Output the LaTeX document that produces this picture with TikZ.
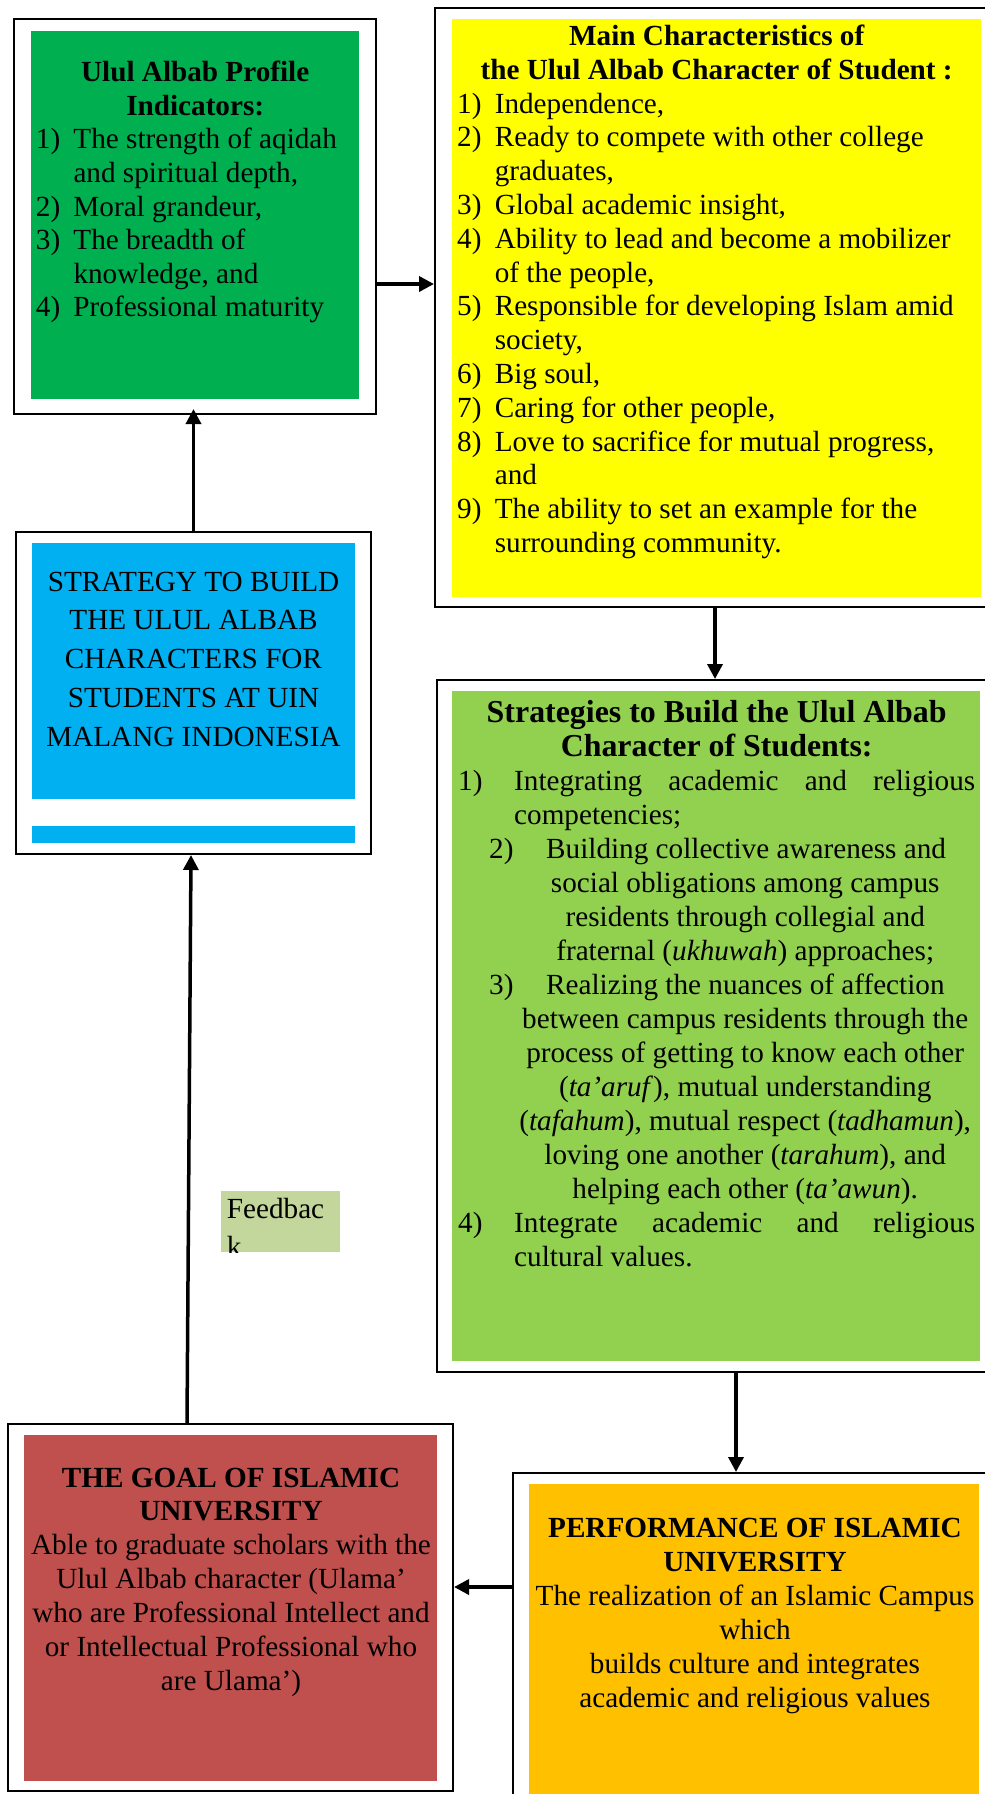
\documentclass[tikz,border=0pt]{standalone}
\usepackage{fontspec}
\setmainfont{Liberation Serif}
\usetikzlibrary{arrows.meta,fit}
\definecolor{cgreen}{HTML}{00B050}
\definecolor{cyellow}{HTML}{FFFF00}
\definecolor{cblue}{HTML}{00B0F0}
\definecolor{clgreen}{HTML}{92D050}
\definecolor{cred}{HTML}{C0504D}
\definecolor{corange}{HTML}{FFC000}
\definecolor{cfeed}{HTML}{C3D69B}
\tikzset{
  frame/.style={draw=black, line width=2pt, inner sep=0pt},
  panel/.style={inner sep=0pt, draw=none},
  conn/.style={line width=3.5pt, -{Triangle[length=15pt,width=15pt]}},
  txt/.style={inner sep=0pt, anchor=base west},
  ctxt/.style={inner sep=0pt, anchor=base},
}
\newcommand{\numb}[2]{\makebox[#1][l]{#2}}
\begin{document}
\begin{tikzpicture}[x=1pt,y=-1pt]
\useasboundingbox (0,0) rectangle (985,1794);
\clip (0,0) rectangle (985,1794);
\fill[white] (0,0) rectangle (985,1794);

% frames and panels
\node[frame, fit={(14,19)(376,414)}] (gframe) {};
\node[panel, fill=cgreen, fit={(31,31)(359,399)}] (gpanel) {};
\node[frame, fit={(435,8)(995,607)}] (yframe) {};
\node[panel, fill=cyellow, fit={(452,19)(981,597)}] (ypanel) {};
\node[frame, fit={(16,532)(371,854)}] (bframe) {};
\node[panel, fill=cblue, fit={(32,543)(355,799)}] (bpanel) {};
\node[panel, fill=cblue, fit={(32,826)(355,843)}] (bstrip) {};
\node[frame, fit={(437,680)(995,1372)}] (lframe) {};
\node[panel, fill=clgreen, fit={(452,691)(980,1361)}] (lpanel) {};
\node[frame, fit={(513,1473)(995,1805)}] (oframe) {};
\node[panel, fill=corange, fit={(529,1484)(979,1805)}] (opanel) {};
\node[frame, fit={(8,1424)(453,1791)}] (rframe) {};
\node[panel, fill=cred, fit={(24,1435)(437,1781)}] (rpanel) {};
\node[panel, fill=cfeed, fit={(221,1191)(340,1252)}] (fpanel) {};

% green text
\node[txt] (gtext) at (35.7,81.7) {\parbox[t]{330pt}{\fontsize{29.2}{33.6}\selectfont
\makebox[318.6pt][c]{\bfseries Ulul Albab Profile}\\
\makebox[318.6pt][c]{\bfseries Indicators:}\\
\numb{37.6pt}{1)}The strength of aqidah\\
\hspace*{37.6pt}and spiritual depth,\\
\numb{37.6pt}{2)}Moral grandeur,\\
\numb{37.6pt}{3)}The breadth of\\
\hspace*{37.6pt}knowledge, and\\
\numb{37.6pt}{4)}Professional maturity}};

% yellow text
\node[txt] (ytext) at (457,45.5) {\parbox[t]{530pt}{\fontsize{29.2}{33.8}\selectfont
\makebox[519pt][c]{\bfseries Main Characteristics of}\\
\makebox[519pt][c]{\bfseries the Ulul Albab Character of Student :}\\
\numb{37.6pt}{1)}Independence,\\
\numb{37.6pt}{2)}Ready to compete with other college\\
\hspace*{37.6pt}graduates,\\
\numb{37.6pt}{3)}Global academic insight,\\
\numb{37.6pt}{4)}Ability to lead and become a mobilizer\\
\hspace*{37.6pt}of the people,\\
\numb{37.6pt}{5)}Responsible for developing Islam amid\\
\hspace*{37.6pt}society,\\
\numb{37.6pt}{6)}Big soul,\\
\numb{37.6pt}{7)}Caring for other people,\\
\numb{37.6pt}{8)}Love to sacrifice for mutual progress,\\
\hspace*{37.6pt}and\\
\numb{37.6pt}{9)}The ability to set an example for the\\
\hspace*{37.6pt}surrounding community.}};

% blue text
\node[ctxt] (btext) at (193.5,591) {\parbox[t]{330pt}{\centering\fontsize{29.2}{38.75}\selectfont
STRATEGY TO BUILD\\
THE ULUL ALBAB\\
CHARACTERS FOR\\
STUDENTS AT UIN\\
MALANG INDONESIA}};

% light green text
\node[txt] (ltext) at (458,722) {\parbox[t]{530pt}{\fontsize{29.2}{34}\selectfont
\makebox[517pt][c]{\fontsize{31.9}{34}\selectfont\bfseries Strategies to Build the Ulul Albab}\\
\makebox[517pt][c]{\fontsize{31.9}{34}\selectfont\bfseries Character of Students:}\\
\numb{56pt}{1)}\makebox[461pt][s]{Integrating\hfill academic\hfill and\hfill religious}\\
\hspace*{56pt}competencies;\\
\hspace*{31pt}\numb{57pt}{2)}Building collective awareness and\\
\hspace*{56pt}\makebox[462pt][c]{social obligations among campus}\\
\hspace*{56pt}\makebox[462pt][c]{residents through collegial and}\\
\hspace*{56pt}\makebox[462pt][c]{fraternal (\textit{ukhuwah}) approaches;}\\
\hspace*{31pt}\numb{57pt}{3)}Realizing the nuances of affection\\
\hspace*{56pt}\makebox[462pt][c]{between campus residents through the}\\
\hspace*{56pt}\makebox[462pt][c]{process of getting to know each other}\\
\hspace*{56pt}\makebox[462pt][c]{(\textit{ta’aruf}), mutual understanding}\\
\hspace*{56pt}\makebox[462pt][c]{(\textit{tafahum}), mutual respect (\textit{tadhamun}),}\\
\hspace*{56pt}\makebox[462pt][c]{loving one another (\textit{tarahum}), and}\\
\hspace*{56pt}\makebox[462pt][c]{helping each other (\textit{ta’awun}).}\\
\numb{56pt}{4)}\makebox[461pt][s]{Integrate\hfill academic\hfill and\hfill religious}\\
\hspace*{56pt}cultural values.}};

% red text
\node[ctxt] (rtext) at (231,1487) {\parbox[t]{440pt}{\centering\fontsize{29.2}{33.9}\selectfont
\textbf{THE GOAL OF ISLAMIC}\\
\textbf{UNIVERSITY}\\
Able to graduate scholars with the\\
Ulul Albab character (Ulama’\\
who are Professional Intellect and\\
or Intellectual Professional who\\
are Ulama’)}};

% orange text
\node[ctxt] (otext) at (755,1537) {\parbox[t]{450pt}{\centering\fontsize{29.2}{34}\selectfont
\textbf{PERFORMANCE OF ISLAMIC}\\
\textbf{UNIVERSITY}\\
The realization of an Islamic Campus\\
which\\
builds culture and integrates\\
academic and religious values}};

% feedback text (clipped to its box)
\begin{scope}
\clip (fpanel.south west) rectangle (fpanel.north east);
\node[txt] (ftext) at (226.7,1218.3) {\parbox[t]{110pt}{\fontsize{29.2}{38.3}\selectfont Feedbac\\k}};
\end{scope}

% connectors
\coordinate (a1) at ([yshift=-67.5pt]gframe.east);
\draw[conn] (a1) -- (a1 -| yframe.west);
\draw[conn, shorten >=-6pt] (bframe.north) -- (bframe.north |- gframe.south);
\draw[conn] (yframe.south) -- (yframe.south |- lframe.north);
\coordinate (a4) at ([xshift=20pt]lframe.south);
\draw[conn] (a4) -- (a4 |- oframe.north);
\coordinate (a5) at ([yshift=52pt]oframe.west);
\draw[conn] (a5) -- (a5 -| rframe.east);
\draw[conn] ([xshift=-43.5pt]rframe.north) -- ([xshift=-2.5pt]bframe.south);
\end{tikzpicture}
\end{document}
